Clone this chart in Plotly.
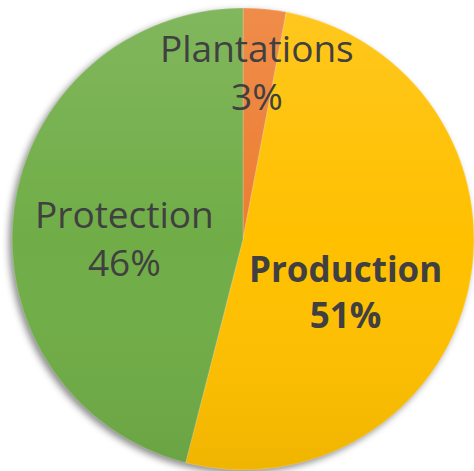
import base64
import plotly.graph_objects as go

# Forest area by management purpose
categories = ["Plantations", "Production", "Protection"]
shares = [3, 51, 46]
slice_colors = ["#ED7D31", "#FFC000", "#70AD47"]
bold_label = ["Production"]

W, H = 474, 471
CX, CY, R = 243, 239, 231  # pie centre / radius in pixels (from top-left)

total = sum(shares)
pct = [round(v / total * 100) for v in shares]

fig = go.Figure(
    go.Pie(
        labels=categories,
        values=shares,
        sort=False,
        direction="clockwise",
        rotation=0,
        marker=dict(colors=slice_colors, line=dict(color="rgba(255,255,255,0.35)", width=0.6)),
        textinfo="none",
        hoverinfo="label+percent",
        showlegend=False,
        domain=dict(
            x=[(CX - R) / W, (CX + R) / W],
            y=[(H - CY - R) / H, (H - CY + R) / H],
        ),
    )
)

# soft drop shadow under the disc
shadow_svg = f"""<svg xmlns='http://www.w3.org/2000/svg' width='{W}' height='{H}' viewBox='0 0 {W} {H}'>
<defs><filter id='b' x='-20%' y='-20%' width='140%' height='140%'><feGaussianBlur stdDeviation='3.5'/></filter></defs>
<circle cx='{CX - 3}' cy='{CY + 3}' r='{R}' fill='#000' fill-opacity='0.45' filter='url(#b)'/>
</svg>"""

# light-to-dark vertical shading across the disc
shade_svg = f"""<svg xmlns='http://www.w3.org/2000/svg' width='{W}' height='{H}' viewBox='0 0 {W} {H}'>
<defs><linearGradient id='g' x1='0' y1='0' x2='0' y2='1'>
<stop offset='0' stop-color='#fff' stop-opacity='0.12'/>
<stop offset='0.5' stop-color='#fff' stop-opacity='0'/>
<stop offset='1' stop-color='#000' stop-opacity='0.06'/>
</linearGradient></defs>
<circle cx='{CX}' cy='{CY}' r='{R}' fill='url(#g)'/>
</svg>"""


def uri(svg):
    return "data:image/svg+xml;base64," + base64.b64encode(svg.encode()).decode()


images = [
    dict(source=uri(shadow_svg), xref="paper", yref="paper", x=0, y=1,
         sizex=1, sizey=1, xanchor="left", yanchor="top", sizing="stretch", layer="below"),
    dict(source=uri(shade_svg), xref="paper", yref="paper", x=0, y=1,
         sizex=1, sizey=1, xanchor="left", yanchor="top", sizing="stretch", layer="above"),
]

# label anchor points (pixels from top-left)
label_pos = {"Plantations": (257, 72), "Production": (345, 291), "Protection": (124, 237)}

annotations = []
for name, p in zip(categories, pct):
    px, py = label_pos[name]
    txt = f"{name}<br>{p}%"
    size = 37
    if name in bold_label:
        txt = f"<b>{txt}</b>"
        size = 35
    annotations.append(dict(
        x=px / W, y=1 - py / H, xref="paper", yref="paper",
        text=txt, showarrow=False, xanchor="center", yanchor="middle",
        font=dict(family="Open Sans", size=size, color="#404040"),
    ))

fig.update_layout(
    width=W, height=H,
    margin=dict(l=0, r=0, t=0, b=0),
    paper_bgcolor="white",
    images=images,
    annotations=annotations,
)

fig.write_html("out.html")
